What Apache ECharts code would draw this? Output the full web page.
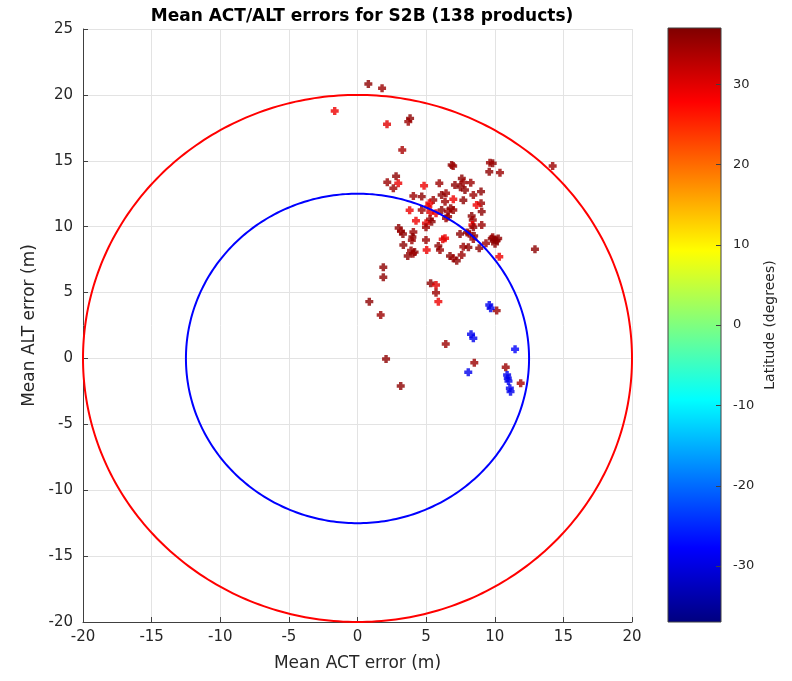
<!DOCTYPE html>
<html>
<head>
<meta charset="utf-8">
<script src="https://cdn.jsdelivr.net/npm/echarts@6/dist/echarts.min.js"></script>
<style>html,body{margin:0;padding:0;background:#fff;}#c{width:792px;height:681px;}</style>
</head>
<body>
<div id="c"></div>
<script>
// ---- data ----
const titleText = 'Mean ACT/ALT errors for S2B (138 products)';
const xTicks = [-20, -15, -10, -5, 0, 5, 10, 15, 20];
const yTicks = [-20, -15, -10, -5, 0, 5, 10, 15, 20, 25];
const cbarTicks = [-30, -20, -10, 0, 10, 20, 30];
const cbarMin = -37, cbarMax = 37;
const circleRadii = [12.5, 20];

const actErr = [
 -1.66, 0.79, 1.79, 2.15, 3.83, 3.70, 3.26, 14.22, 12.93, 0.86, 1.69, 2.08, 3.15, 6.43, 8.51, 10.8, 11.89, 10.14, 1.88, 1.88, 5.33, 5.72, 5.72, 5.89,
 9.6, 9.7, 8.27, 8.44, 11.48, 8.07, 10.9, 10.95, 11.0, 11.1, 11.15,
 2.81, 2.17, 2.97, 2.61, 4.85, 5.96, 6.86, 6.97, 9.85, 9.65, 9.6, 10.38, 7.6, 7.7, 7.5, 8.25, 7.1, 6.45, 6.13, 6.98, 6.38, 7.83, 8.44, 9.0, 9.0, 8.68, 5.52, 5.23, 4.68, 4.07, 7.71, 6.79, 6.98,
 3.8, 4.68, 5.3, 5.16, 6.13, 6.6, 6.6, 5.72, 4.26, 5.28, 5.4, 6.45, 4.99, 4.99, 8.32, 8.4, 9.05, 8.37, 8.44, 9.05, 7.99, 8.14, 8.5, 8.44, 7.47, 4.99, 6.38, 6.21, 9.78, 10.14, 10.02, 9.85, 10.25, 9.95, 9.36, 8.87, 7.71, 8.08, 7.59, 6.74, 6.98, 7.23, 6.01, 5.89, 5.04, 10.33,
 3.0, 3.17, 3.31, 4.07, 4.0, 3.96, 3.34, 3.9, 4.16, 4.04, 3.66
];
const altErr = [
 18.78, 20.83, 20.5, 17.77, 18.22, 17.97, 15.82, 14.6, 8.29, 4.31, 3.3, -0.04, -2.09, 1.1, -0.32, -0.67, -1.88, 3.63, 6.92, 6.16, 5.7, 5.58, 4.99, 4.31,
 4.06, 3.81, 1.84, 1.53, 0.7, -1.05, -1.25, -1.5, -1.72, -2.26, -2.52,
 13.82, 13.37, 13.29, 12.91, 13.1, 13.29, 14.68, 14.6, 14.81, 14.85, 14.17, 14.1, 13.65, 13.35, 13.0, 13.34, 13.16, 12.53, 12.4, 12.08, 11.9, 12.78, 12.4, 12.66, 11.78, 11.65, 12.03, 11.78, 12.28, 12.33, 12.0, 11.4, 11.27,
 11.25, 11.27, 11.1, 11.52, 11.27, 11.14, 10.76, 11.02, 10.45, 10.56, 10.38, 10.64, 10.26, 9.95, 10.81, 10.5, 11.14, 10.13, 9.95, 10.13, 9.55, 9.47, 9.3, 9.07, 9.45, 8.99, 9.12, 9.05, 9.08, 8.95, 8.7, 9.2, 9.1, 9.0, 8.74, 8.36, 8.48, 8.43, 7.85, 7.78, 7.6, 7.42, 8.23, 8.54, 8.23, 7.72,
 9.9, 9.65, 9.45, 9.6, 9.22, 8.97, 8.61, 8.2, 8.07, 7.95, 7.78
];
const latitude = [
 29, 36, 35, 30, 36, 35, 34, 35, 36, 36, 35, 36, 36, 35, 35, 35, 34, 35, 36, 36, 36, 30, 35, 29,
 -29, -29, -29, -29, -28, -29, -29, -29, -29, -29, -29,
 36, 35, 29, 35, 29, 35, 36, 35, 36, 35, 36, 35, 36, 35, 36, 35, 36, 35, 36, 29, 35, 36, 35, 36, 35, 29, 35, 29, 36, 35, 36, 36, 35,
 29, 35, 30, 29, 36, 35, 36, 29, 29, 35, 36, 35, 30, 35, 36, 35, 36, 29, 36, 35, 36, 35, 36, 35, 36, 35, 29, 30, 36, 35, 36, 35, 36, 36, 35, 36, 35, 36, 35, 36, 35, 36, 35, 36, 29, 29,
 36, 35, 36, 35, 36, 35, 36, 35, 36, 35, 36
];

// ---- build chart ----
const jet = ['#00007F', '#0000FF', '#007FFF', '#00FFFF', '#7FFF7F', '#FFFF00', '#FF7F00', '#FF0000', '#7F0000'];
const points = actErr.map((x, i) => [x, altErr[i], latitude[i]]);
const circleColors = ['#0000FF', '#FF0000'];
const FONT = 'DejaVu Sans';
const TXT = '#262626';
const AX = '#404040';

const chart = echarts.init(document.getElementById('c'), null, { renderer: 'canvas' });
chart.setOption({
  animation: false,
  backgroundColor: '#fff',
  title: {
    text: titleText, left: 357, top: 3, textAlign: 'center',
    textStyle: { fontFamily: FONT, fontSize: 17, fontWeight: 'bold', color: '#000' }
  },
  grid: [
    { left: 83, right: 160, top: 29, bottom: 59, containLabel: false },
    { left: 668, width: 53, top: 28, bottom: 59, containLabel: false }
  ],
  xAxis: [
    {
      gridIndex: 0, type: 'value', min: -20, max: 20, interval: 5,
      name: 'Mean ACT error (m)', nameLocation: 'middle', nameGap: 33,
      nameTextStyle: { fontFamily: FONT, fontSize: 17, color: TXT },
      axisLine: { show: true, onZero: false, lineStyle: { color: AX, width: 1 } },
      axisTick: { show: true, inside: true, length: 5, lineStyle: { color: AX } },
      axisLabel: { fontFamily: FONT, fontSize: 15, color: TXT, margin: 8 },
      splitLine: { show: true, lineStyle: { color: '#e3e3e3', width: 1 } }
    },
    { gridIndex: 1, type: 'value', min: 0, max: 1, show: false }
  ],
  yAxis: [
    {
      gridIndex: 0, type: 'value', min: -20, max: 25, interval: 5,
      name: 'Mean ALT error (m)', nameLocation: 'middle', nameGap: 44,
      nameTextStyle: { fontFamily: FONT, fontSize: 17, color: TXT },
      axisLine: { show: true, onZero: false, lineStyle: { color: AX, width: 1 } },
      axisTick: { show: true, inside: true, length: 5, lineStyle: { color: AX } },
      axisLabel: { fontFamily: FONT, fontSize: 15, color: TXT, margin: 10 },
      splitLine: { show: true, lineStyle: { color: '#e3e3e3', width: 1 } }
    },
    {
      gridIndex: 1, type: 'value', min: cbarMin, max: cbarMax, position: 'right',
      name: 'Latitude (degrees)', nameLocation: 'middle', nameGap: 42,
      nameTextStyle: { fontFamily: FONT, fontSize: 14, color: TXT },
      axisLine: { show: false },
      axisTick: { show: false },
      axisLabel: { fontFamily: FONT, fontSize: 13, color: TXT, margin: 12, customValues: cbarTicks },
      splitLine: { show: false }
    }
  ],
  visualMap: {
    show: false, type: 'continuous', min: cbarMin, max: cbarMax, dimension: 2, seriesIndex: 0,
    inRange: { color: jet }
  },
  series: [
    {
      type: 'scatter', xAxisIndex: 0, yAxisIndex: 0, data: points,
      symbol: 'path://M2,0h3v2h2v3h-2v2h-3v-2h-2v-3h2z', symbolSize: 8, z: 2
    },
    {
      type: 'custom', xAxisIndex: 0, yAxisIndex: 0, z: 3, silent: true,
      data: circleRadii.map(r => [0, 0, r]),
      encode: { x: 0, y: 1 },
      renderItem: function (params, api) {
        const r = api.value(2);
        const pts = [];
        for (let a = 0; a <= 360; a += 1) {
          const t = a * Math.PI / 180;
          pts.push(api.coord([r * Math.cos(t), r * Math.sin(t)]));
        }
        return {
          type: 'polyline', shape: { points: pts },
          style: { stroke: circleColors[params.dataIndex], lineWidth: 2, fill: null }
        };
      }
    },
    {
      type: 'custom', xAxisIndex: 1, yAxisIndex: 1, silent: true, z: 1,
      data: [[0, cbarMin], [1, cbarMax]],
      encode: { x: 0, y: 1 },
      renderItem: function (params, api) {
        if (params.dataIndex !== 0) return null;
        const p1 = api.coord([0, cbarMax]);
        const p2 = api.coord([1, cbarMin]);
        const stops = jet.slice().reverse().map((c, i) => ({ offset: i / (jet.length - 1), color: c }));
        const children = [{
          type: 'rect',
          shape: { x: p1[0], y: p1[1], width: p2[0] - p1[0], height: p2[1] - p1[1] },
          style: { fill: new echarts.graphic.LinearGradient(0, 0, 0, 1, stops), stroke: AX, lineWidth: 1 }
        }];
        cbarTicks.forEach(v => {
          const p = api.coord([1, v]);
          children.push({
            type: 'line',
            shape: { x1: p[0] - 5, y1: Math.round(p[1]) + 0.5, x2: p[0], y2: Math.round(p[1]) + 0.5 },
            style: { stroke: AX, lineWidth: 1 }
          });
        });
        return { type: 'group', children: children };
      }
    }
  ]
});
</script>
</body>
</html>
